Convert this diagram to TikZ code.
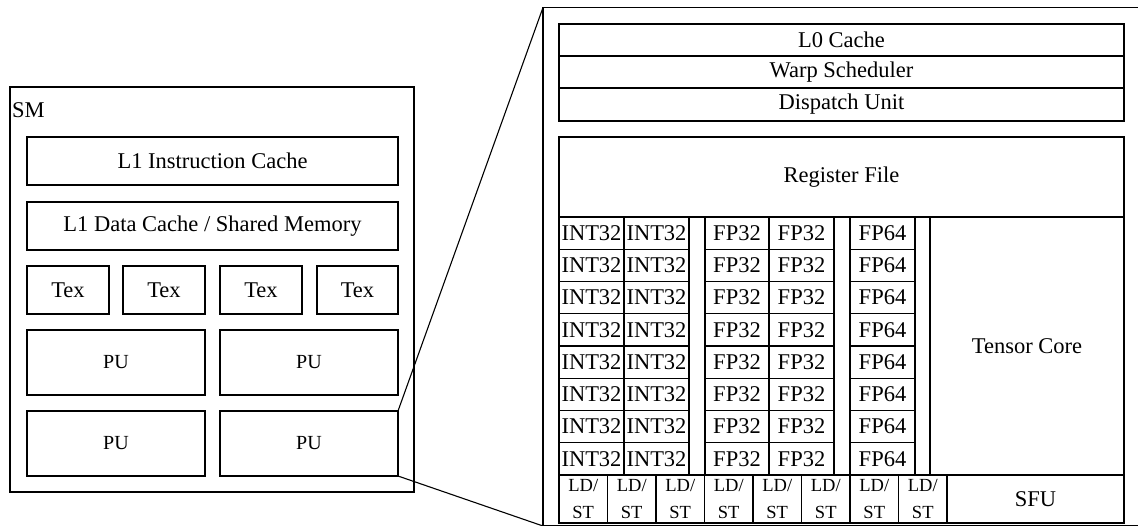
\documentclass[tikz,border=0pt]{standalone}
\usepackage{fontspec}
\setmainfont{Liberation Serif}
\tikzset{
  box/.style={draw, line width=1.1pt, inner sep=0pt, outer sep=0pt, align=center,
    font=\fontsize{22.5}{27}\selectfont},
  small/.style={font=\fontsize{20}{24}\selectfont},
  ldst/.style={font=\fontsize{18.5}{27}\selectfont},
  link/.style={line width=1.1pt},
}
\newcommand{\Bx}[7][]{\node[box,#1,minimum width={(#5-#3)*1pt},minimum height={(#6-#4)*1pt}] (#2) at ({(#3+#5)/2},{(#4+#6)/2}) {#7};}
\begin{document}
\begin{tikzpicture}[x=1pt,y=-1pt]
\useasboundingbox (0,0) rectangle (1138,525);
\clip (0,0) rectangle (1138,525);
% left SM
\Bx{sm}{10}{87}{414}{492}{}
\node[anchor=west, inner sep=0pt, font=\fontsize{22.5}{27}\selectfont] (smlabel) at (12,110) {SM};
\Bx{l1i}{27}{137}{398}{185}{L1 Instruction Cache}
\Bx{l1d}{27}{202}{398}{250}{L1 Data Cache / Shared Memory}
\Bx{tex1}{27}{266}{109}{314}{Tex}
\Bx{tex2}{123}{266}{205}{314}{Tex}
\Bx{tex3}{220}{266}{302}{314}{Tex}
\Bx{tex4}{317}{266}{398}{314}{Tex}
\Bx[small]{pu1}{27}{330}{205}{395}{PU}
\Bx[small]{pu2}{220}{330}{398}{395}{PU}
\Bx[small]{pu3}{27}{411}{205}{476}{PU}
\Bx[small]{pu4}{220}{411}{398}{476}{PU}
% right detail
\Bx{detail}{543}{7.5}{1160}{526}{}
\Bx{l0}{559}{24}{1124}{56}{L0 Cache}
\Bx{warp}{559}{56}{1124}{88}{Warp Scheduler}
\Bx{disp}{559}{88}{1124}{121}{Dispatch Unit}
\Bx{reg}{559}{137}{1124}{217}{Register File}
\foreach \r in {0,...,7}{
  \pgfmathsetmacro\ya{217+\r*32.25}
  \pgfmathsetmacro\yb{217+(\r+1)*32.25}
  \Bx{inta\r}{559}{\ya}{624}{\yb}{INT32}
  \Bx{intb\r}{624}{\ya}{689}{\yb}{INT32}
  \Bx{fpa\r}{705}{\ya}{769}{\yb}{FP32}
  \Bx{fpb\r}{769}{\ya}{834}{\yb}{FP32}
  \Bx{fpd\r}{850}{\ya}{915}{\yb}{FP64}
}
\Bx{gap1}{689}{217}{705}{475}{}
\Bx{gap2}{834}{217}{850}{475}{}
\Bx{gap3}{915}{217}{930}{475}{}
\Bx{tensor}{930}{217}{1124}{475}{Tensor Core}
\foreach \i in {0,...,7}{
  \pgfmathsetmacro\xa{559+\i*48.5}
  \pgfmathsetmacro\xb{559+(\i+1)*48.5}
  \Bx[ldst]{ldst\i}{\xa}{475}{\xb}{523}{LD/\\ST}
}
\Bx{sfu}{947}{475}{1124}{523}{SFU}
% zoom connectors
\draw[link] (pu4.north east) -- (detail.north west);
\draw[link] (pu4.south east) -- (detail.south west);
\end{tikzpicture}
\end{document}
